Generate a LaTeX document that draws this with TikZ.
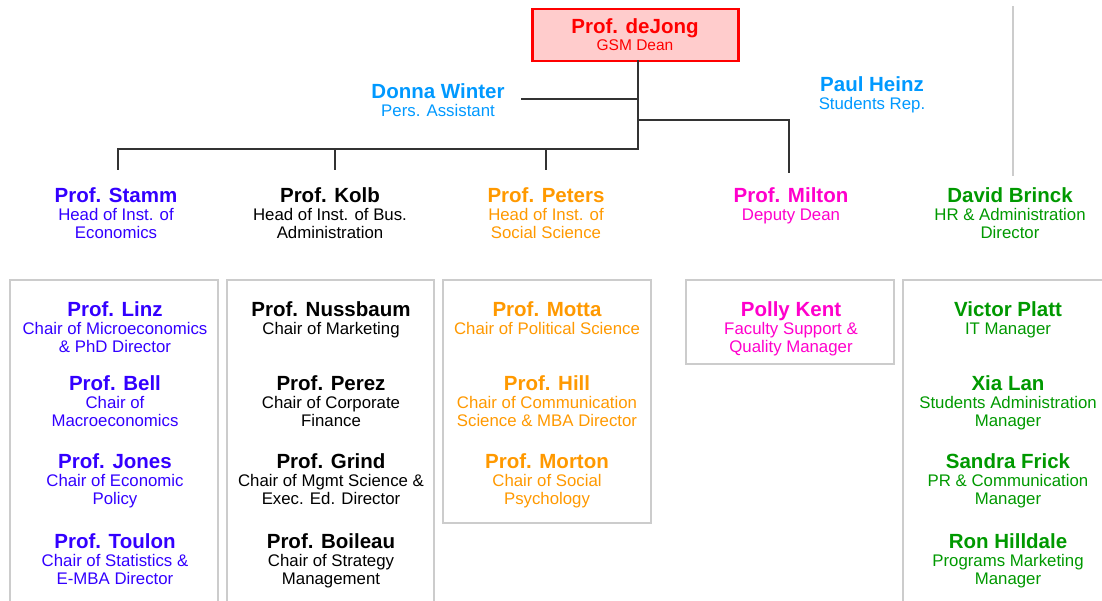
\documentclass[tikz,border=0pt]{standalone}
\usepackage{fontspec}
\setmainfont{Liberation Sans}
\definecolor{econ}{HTML}{3300FF}
\definecolor{aide}{HTML}{0099FF}
\definecolor{soc}{HTML}{FF9900}
\definecolor{dep}{HTML}{FF00CC}
\definecolor{adm}{HTML}{009900}
\definecolor{bus}{HTML}{000000}
\definecolor{deanred}{HTML}{FF0000}
\definecolor{deanfill}{HTML}{FFCCCC}
\definecolor{frame}{HTML}{CCCCCC}
\definecolor{wire}{HTML}{333333}
\tikzset{
  nm/.style={anchor=base, inner sep=0pt, font=\bfseries\fontsize{20.5}{24}\selectfont},
  rl/.style={anchor=base, inner sep=0pt, font=\fontsize{16.8}{19}\selectfont},
  link/.style={draw=wire, line width=2pt, line cap=rect},
  group/.style={draw=frame, line width=2pt},
}
% id, x, baseline y, colour, name, first role line, second role line
\newcommand\staff[7]{%
  \node[nm,text=#4] (#1) at (#2,#3) {#5};
  \node[rl,text=#4] (#1-a) at (#2,#3+18) {#6};
  \if\relax\detokenize{#7}\relax\else
    \node[rl,text=#4] (#1-b) at (#2,#3+36) {#7};
  \fi}
\begin{document}
\begin{tikzpicture}[x=1pt,y=-1pt]
\clip (0,0) rectangle (1102,600);
\fill[white] (0,0) rectangle (1102,600);

% department frames
\draw[group] (10,280) rectangle (218,620);
\draw[group] (227,280) rectangle (434,620);
\draw[group] (443,280) rectangle (651,523);
\draw[group] (686,280) rectangle (894,364);
\draw[group] (903,280) rectangle (1120,620);
\draw[frame, line width=2pt] (1013,6) -- (1013,176);

% dean
\node[draw=deanred, fill=deanfill, line width=2.5pt, minimum width=206pt,
      minimum height=52pt, inner sep=0pt] (dean) at (635.5,35) {};
\node[nm,text=deanred] (dean-n) at (635,33) {Prof. deJong};
\node[rl,text=deanred,font=\fontsize{15.5}{18}\selectfont] (dean-r) at (635,50.5) {GSM Dean};

% staff and heads
\staff{winter}{438}{98.5}{aide}{Donna Winter}{Pers. Assistant}{}
\staff{heinz}{872}{91.5}{aide}{Paul Heinz}{Students Rep.}{}
\staff{stamm}{116}{202.5}{econ}{Prof. Stamm}{Head of Inst. of}{Economics}
\staff{kolb}{330}{202.5}{bus}{Prof. Kolb}{Head of Inst. of Bus.}{Administration}
\staff{peters}{546}{202.5}{soc}{Prof. Peters}{Head of Inst. of}{Social Science}
\staff{milton}{791}{202.5}{dep}{Prof. Milton}{Deputy Dean}{}
\staff{brinck}{1010}{202.5}{adm}{David Brinck}{HR \& Administration}{Director}

% economics
\staff{linz}{115}{316.5}{econ}{Prof. Linz}{Chair of Microeconomics}{\& PhD Director}
\staff{bell}{115}{390}{econ}{Prof. Bell}{Chair of}{Macroeconomics}
\staff{jones}{115}{468.5}{econ}{Prof. Jones}{Chair of Economic}{Policy}
\staff{toulon}{115}{548.5}{econ}{Prof. Toulon}{Chair of Statistics \&}{E-MBA Director}

% business administration
\staff{nussbaum}{331}{316.5}{bus}{Prof. Nussbaum}{Chair of Marketing}{}
\staff{perez}{331}{390}{bus}{Prof. Perez}{Chair of Corporate}{Finance}
\staff{grind}{331}{468.5}{bus}{Prof. Grind}{Chair of Mgmt Science \&}{Exec. Ed. Director}
\staff{boileau}{331}{548.5}{bus}{Prof. Boileau}{Chair of Strategy}{Management}

% social science
\staff{motta}{547}{316.5}{soc}{Prof. Motta}{Chair of Political Science}{}
\staff{hill}{547}{390}{soc}{Prof. Hill}{Chair of Communication}{Science \& MBA Director}
\staff{morton}{547}{468.5}{soc}{Prof. Morton}{Chair of Social}{Psychology}

% deputy dean
\staff{kent}{791}{316.5}{dep}{Polly Kent}{Faculty Support \&}{Quality Manager}

% administration
\staff{platt}{1008}{316.5}{adm}{Victor Platt}{IT Manager}{}
\staff{lan}{1008}{390}{adm}{Xia Lan}{Students Administration}{Manager}
\staff{frick}{1008}{468.5}{adm}{Sandra Frick}{PR \& Communication}{Manager}
\staff{hilldale}{1008}{548.5}{adm}{Ron Hilldale}{Programs Marketing}{Manager}

% reporting lines
\coordinate (spine) at (638,61);
\coordinate (hub) at (638,149);
\coordinate (aideJ) at (522,99);
\coordinate (depJ) at (638,120);
\coordinate (tS) at (118,169);
\coordinate (tK) at (335,169);
\coordinate (tP) at (546,169);
\coordinate (tM) at (789,172);
\draw[link] (spine) -- (hub) -- (hub -| tS) -- (tS);
\draw[link] (tK) -- (tK |- hub);
\draw[link] (tP) -- (tP |- hub);
\draw[link] (aideJ) -- (aideJ -| spine);
\draw[link] (depJ) -| (tM);
\end{tikzpicture}
\end{document}
